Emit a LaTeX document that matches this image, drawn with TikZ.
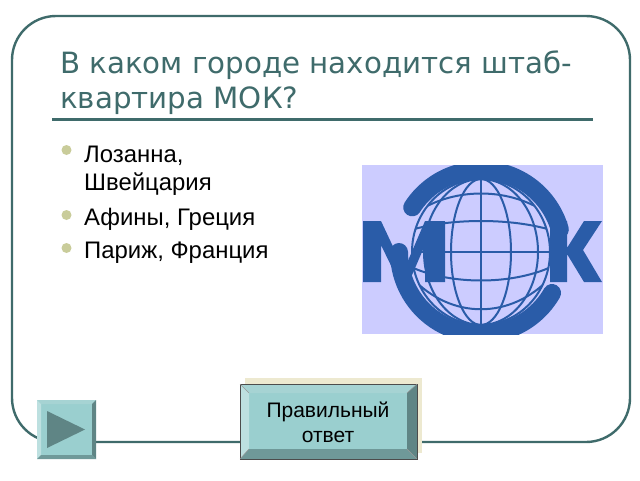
\documentclass[tikz,border=0pt]{standalone}
\usepackage{fontspec}
\setmainfont{Liberation Sans}
\newfontfamily\titlefont{DejaVu Sans}
\definecolor{framegreen}{HTML}{3F6B6B}
\definecolor{bulletkhaki}{HTML}{C9CC9A}
\definecolor{logoback}{HTML}{CCCCFF}
\definecolor{logoblue}{HTML}{2A5CA8}
\definecolor{btnface}{HTML}{9ACFCF}
\definecolor{btntop}{HTML}{A6D3D3}
\definecolor{btnleft}{HTML}{BDE0E0}
\definecolor{btnright}{HTML}{5F8585}
\definecolor{btnbottom}{HTML}{6F9999}
\definecolor{btnshadow}{HTML}{EDE9D0}
\tikzset{
	titleline/.style={anchor=base west,inner sep=0pt,text=framegreen,font=\titlefont\fontsize{29.3}{29.3}\selectfont},
	bodyline/.style={anchor=base west,inner sep=0pt,font=\fontsize{23.9}{23.9}\selectfont},
	btnline/.style={anchor=base,inner sep=0pt,font=\fontsize{21}{21}\selectfont},
	bulletdot/.style={circle,fill=bulletkhaki,inner sep=0pt,minimum size=10pt},
	gridline/.style={draw=logoblue,line width=2pt}
}
\begin{document}
\begin{tikzpicture}[x=1pt,y=-1pt]
\useasboundingbox (0,0) rectangle (640,480);
\draw[framegreen,line width=2.4pt,rounded corners=44pt] (12,16) rectangle (630,442);
\draw[framegreen,line width=3pt] (52,119) -- (593,119);

\node[titleline] (title1) at (60,73) {В каком городе находится штаб-};
\node[titleline] (title2) at (60,108) {квартира МОК?};

\node[bulletdot] (dot1) at (66.5,150) {};
\node[bulletdot] (dot2) at (66.5,215) {};
\node[bulletdot] (dot3) at (66.5,248) {};
\node[bodyline] (answer1a) at (84,162) {Лозанна,};
\node[bodyline] (answer1b) at (84,190) {Швейцария};
\node[bodyline] (answer2) at (84,225) {Афины, Греция};
\node[bodyline] (answer3) at (84,258) {Париж, Франция};

\fill[logoback] (362,165) rectangle (603,334);
\begin{scope}
\clip (362,165) rectangle (603,334);
\begin{scope}[shift={(481,252)}]
\begin{scope}
\clip (0,0) ellipse [x radius=69,y radius=73];
\foreach \rx in {30,57}
	\draw[gridline] (0,0) ellipse [x radius=\rx,y radius=73];
\draw[gridline] (0,-73) -- (0,73);
\draw[gridline] (-70,0) -- (70,0);
\draw[gridline] (-70,-36) .. controls (-30,-66) and (30,-66) .. (70,-36);
\draw[gridline] (-70,-22) .. controls (-30,-34) and (30,-34) .. (70,-22);
\draw[gridline] (-70,15) .. controls (-30,33) and (30,33) .. (70,15);
\draw[gridline] (-70,25) .. controls (-30,68) and (30,68) .. (70,25);
\end{scope}
\draw[logoblue,line width=2pt] (0,0) ellipse [x radius=69,y radius=73];
\draw[logoblue,line width=18pt,line cap=round] (-147:82) arc [start angle=-147,end angle=-16,radius=82];
\draw[logoblue,line width=18pt,line cap=round] (30:82) arc [start angle=30,end angle=180,radius=82];
\end{scope}
\end{scope}
\fill[logoblue] (363,221) -- (381,221) -- (404,270) -- (425,221) -- (445,221) -- (445,282) -- (425,282) -- (425,245) -- (409,282) -- (399,282) -- (381,245) -- (381,282) -- (363,282) -- cycle;
\fill[logoblue] (550,221) -- (567,221) -- (567,248) -- (584,221) -- (602,221) -- (583,250) -- (602,282) -- (584,282) -- (567,254) -- (567,282) -- (550,282) -- cycle;

\fill[btnshadow] (245,378) rectangle (422,453);
\fill[btnface] (240,384) rectangle (417,459);
\fill[btntop] (240,384) -- (417,384) -- (407,393) -- (249,393) -- cycle;
\fill[btnleft] (240,384) -- (249,393) -- (249,449) -- (240,459) -- cycle;
\fill[btnright] (417,384) -- (407,393) -- (407,449) -- (417,459) -- cycle;
\fill[btnbottom] (240,459) -- (249,449) -- (407,449) -- (417,459) -- cycle;
\draw[black!70,line width=1pt] (240,384) rectangle (417,459);
\draw[black!40,line width=.5pt] (240,384) -- (249,393) (417,384) -- (407,393) (240,459) -- (249,449) (417,459) -- (407,449);
\node[btnline] (answerbtn1) at (328,417) {Правильный};
\node[btnline] (answerbtn2) at (328,442) {ответ};

\fill[btnface] (37,400) rectangle (96,459);
\fill[btntop] (37,400) -- (96,400) -- (92,404) -- (41,404) -- cycle;
\fill[btnleft] (37,400) -- (41,404) -- (41,455) -- (37,459) -- cycle;
\fill[btnright] (96,400) -- (92,404) -- (92,455) -- (96,459) -- cycle;
\fill[btnbottom] (37,459) -- (41,455) -- (92,455) -- (96,459) -- cycle;
\fill[btnright] (47,411) -- (85,429.5) -- (47,448) -- cycle;
\end{tikzpicture}
\end{document}
